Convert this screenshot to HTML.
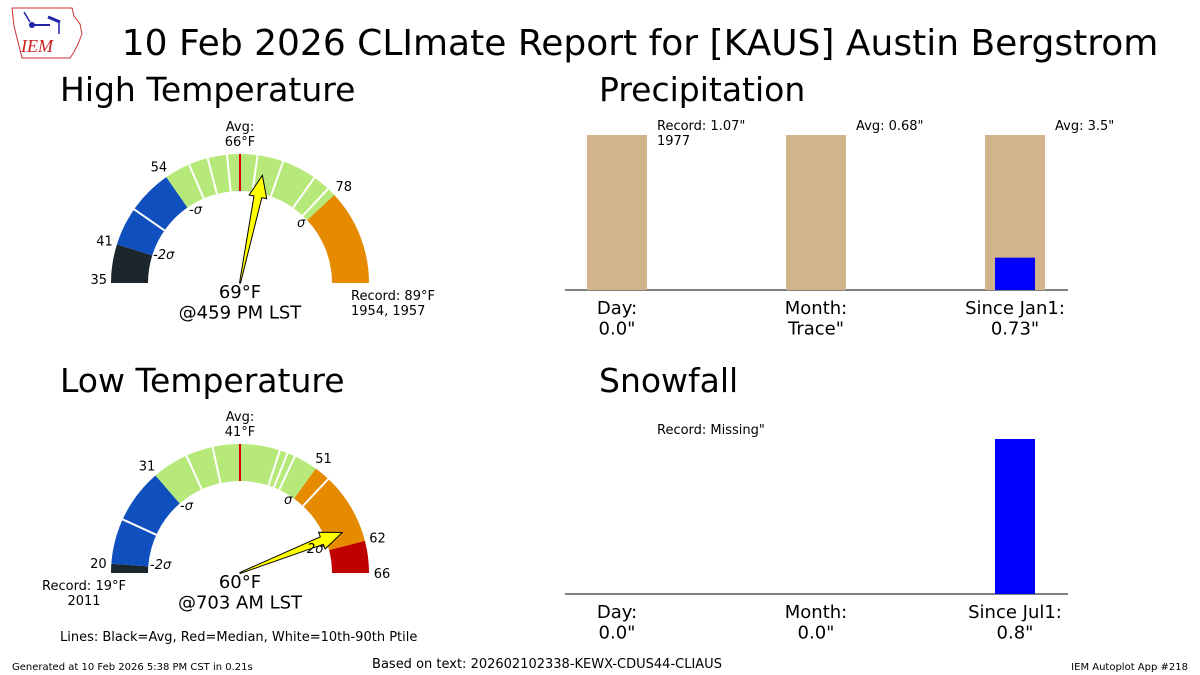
<!DOCTYPE html>
<html><head><meta charset="utf-8"><style>
body{margin:0;background:#fff;}
svg{display:block;font-family:"DejaVu Sans","Liberation Sans",sans-serif;}
</style></head><body>
<svg id="s" width="1200" height="675" viewBox="0 0 1200 675" xmlns="http://www.w3.org/2000/svg">
<g>
<path d="M12 8 L72 8 L74 16 L80 24 L82 34 L78 44 L74 52 L70 58 L22 58 L18 42 L14 26 Z" fill="none" stroke="#c33" stroke-width="1"/>
<line x1="32" y1="25" x2="50" y2="25" stroke="#22a" stroke-width="2"/>
<circle cx="32" cy="25" r="3" fill="#22a"/>
<line x1="24" y1="12" x2="30" y2="22" stroke="#22a" stroke-width="1.5"/>
<line x1="48" y1="17" x2="60" y2="22" stroke="#22a" stroke-width="3"/>
<line x1="59" y1="22" x2="59" y2="34" stroke="#22a" stroke-width="1.5"/>
<text x="21" y="52" font-family="Liberation Serif,serif" font-style="italic" font-size="18" fill="#c22">IEM</text>
</g>
<text x="640" y="55" text-anchor="middle" font-size="36">10 Feb 2026 CLImate Report for [KAUS] Austin Bergstrom</text>
<text x="60" y="101" font-size="33">High Temperature</text>
<text x="60" y="392" font-size="33">Low Temperature</text>
<text x="599" y="101" font-size="33">Precipitation</text>
<text x="599" y="392" font-size="33">Snowfall</text>
<g id="g"></g>
<text x="60" y="641" font-size="13">Lines: Black=Avg, Red=Median, White=10th-90th Ptile</text>
<text x="12" y="670" font-size="10">Generated at 10 Feb 2026 5:38 PM CST in 0.21s</text>
<text x="547" y="668" font-size="13" text-anchor="middle">Based on text: 202602102338-KEWX-CDUS44-CLIAUS</text>
<text x="1188" y="670" font-size="10" text-anchor="end">IEM Autoplot App #218</text>
</svg>
<script>
// High gauge data
const highBands=[35,41,54,78,89];
const highColors=["#1c262d","#0f4fbe","#b6e87a","#e68a00"];
const highPct=[47,58,61,64,68,71,75,77];
const highAvg=66, highObs=69;
// Low gauge data
const lowBands=[19,20,31,51,62,66];
const lowColors=["#1c262d","#0f4fbe","#b6e87a","#e68a00","#c00000"];
const lowPct=[25,35,38,46,47,48,53];
const lowAvg=41, lowObs=60;
// Precip data
const precipCats=["Day:\n0.0\"","Month:\nTrace\"","Since Jan1:\n0.73\""];
const precipRef=[1.07,0.68,3.5];
const precipObs=[0.0,0.0,0.73];
const precipLabels=["Record: 1.07\"\n1977","Avg: 0.68\"","Avg: 3.5\""];
// Snow data
const snowCats=["Day:\n0.0\"","Month:\n0.0\"","Since Jul1:\n0.8\""];
const snowRef=[0,0,0];
const snowObs=[0.0,0.0,0.8];

const NS="http://www.w3.org/2000/svg";
const G=document.getElementById('g');
function mk(t,a,p){const e=document.createElementNS(NS,t);for(const k in a)e.setAttribute(k,a[k]);(p||G).appendChild(e);return e;}
function txt(x,y,s,size,anchor,name,italic){const lines=s.split("\n");lines.forEach((l,i)=>{const e=mk('text',{x:x,y:y+i*size*1.15,'font-size':size,'text-anchor':anchor||'start'});if(italic)e.setAttribute('font-style','italic');e.textContent=l;


});}
function gauge(cx,cy,bands,colors,pct,avg,obs,name,skipMin,skipMax){
 const mn=bands[0],mx=bands[bands.length-1],R=129,r=92;
 const ang=v=>v<=avg?Math.PI*(1-0.5*(v-mn)/(avg-mn)):Math.PI*0.5*(1-(v-avg)/(mx-avg));
 const pt=(v,rad)=>[cx+rad*Math.cos(ang(v)),cy-rad*Math.sin(ang(v))];
 for(let i=0;i<colors.length;i++){
  const a=pt(bands[i],R),b=pt(bands[i+1],R),c=pt(bands[i+1],r),d=pt(bands[i],r);
  const p=mk('path',{d:`M${a} A${R},${R} 0 0 1 ${b} L${c} A${r},${r} 0 0 0 ${d} Z`,fill:colors[i]});
  
  
 }
 pct.forEach(v=>{const a=pt(v,r),b=pt(v,R);const l=mk('line',{x1:a[0],y1:a[1],x2:b[0],y2:b[1],stroke:'#fff','stroke-width':2});
  
  });
 const a=pt(avg,r),b=pt(avg,R);const l=mk('line',{x1:a[0],y1:a[1],x2:b[0],y2:b[1],stroke:'#d00','stroke-width':2});
 
 
 for(let i=1;i<bands.length;i++){
  if(i==bands.length-1&&skipMax)continue;
  const p=pt(bands[i],R+13);txt(p[0],p[1]+5,String(bands[i]),13,'middle',name+'-tick');}
 if(!skipMin){const p0=pt(mn,R+2);txt(p0[0]-2,p0[1]+1,String(mn),13,'end',name+'-tick');}
 txt(cx,cy-152,"Avg:\n"+avg+"°F",13,'middle',name+'-avg-label');
 const t=ang(obs),L=110,ux=Math.cos(t),uy=-Math.sin(t),nx=-uy,ny=ux;
 const tip=[cx+L*ux,cy+L*uy],base=[cx+(L-22)*ux,cy+(L-22)*uy];
 const pts=[[cx-0.5*nx,cy-0.5*ny],[base[0]-4*nx,base[1]-4*ny],[base[0]-9*nx,base[1]-9*ny],tip,[base[0]+9*nx,base[1]+9*ny],[base[0]+4*nx,base[1]+4*ny],[cx+0.5*nx,cy+0.5*ny]];
 const ar=mk('polygon',{points:pts.map(q=>q.join(',')).join(' '),fill:'#ff0',stroke:'#000','stroke-width':1});
 
 
}
gauge(240,283,highBands,highColors,highPct,highAvg,highObs,'high-gauge',false,true);
txt(240,298,highObs+"°F\n@459 PM LST",18,'middle','high-obs-label');
txt(351,300,"Record: 89°F\n1954, 1957",13,'start','high-record-label');
txt(189,214,"-σ",13,'start','sigma-label',true);txt(153,259,"-2σ",13,'start','sigma-label',true);txt(297,227,"σ",13,'start','sigma-label',true);
gauge(240,573,lowBands,lowColors,lowPct,lowAvg,lowObs,'low-gauge',true,false);
txt(240,588,lowObs+"°F\n@703 AM LST",18,'middle','low-obs-label');
txt(84,590,"Record: 19°F\n2011",13,'middle','low-record-label');
txt(180,510,"-σ",13,'start','sigma-label',true);txt(150,569,"-2σ",13,'start','sigma-label',true);txt(284,504,"σ",13,'start','sigma-label',true);txt(307,553,"2σ",13,'start','sigma-label',true);

function bars(base,cats,ref,obs,labels,name){
 const xs=[617,816,1015],H=155;
 const ax=mk('line',{x1:565,y1:base,x2:1068,y2:base,stroke:'#000','stroke-width':1});
 
 
 cats.forEach((c,i)=>{
  const mxv=Math.max(ref[i],obs[i]);
  if(ref[i]>0){const b=mk('rect',{x:xs[i]-30,y:base-H*ref[i]/mxv,width:60,height:H*ref[i]/mxv,fill:'#d2b48c'});
   
   }
  if(obs[i]>0){const h=H*obs[i]/mxv;const b=mk('rect',{x:xs[i]-20,y:base-h,width:40,height:h,fill:'#00f'});
   
   }
  txt(xs[i],base+24,c,18,'middle',name+'-category');
  if(labels[i])txt(xs[i]+40,base-160,labels[i],13,'start',name+'-ref-label');
 });
}
bars(290,precipCats,precipRef,precipObs,precipLabels,'precip');
bars(594,snowCats,snowRef,snowObs,["Record: Missing\"","",""],'snow');
</script>
</body></html>
